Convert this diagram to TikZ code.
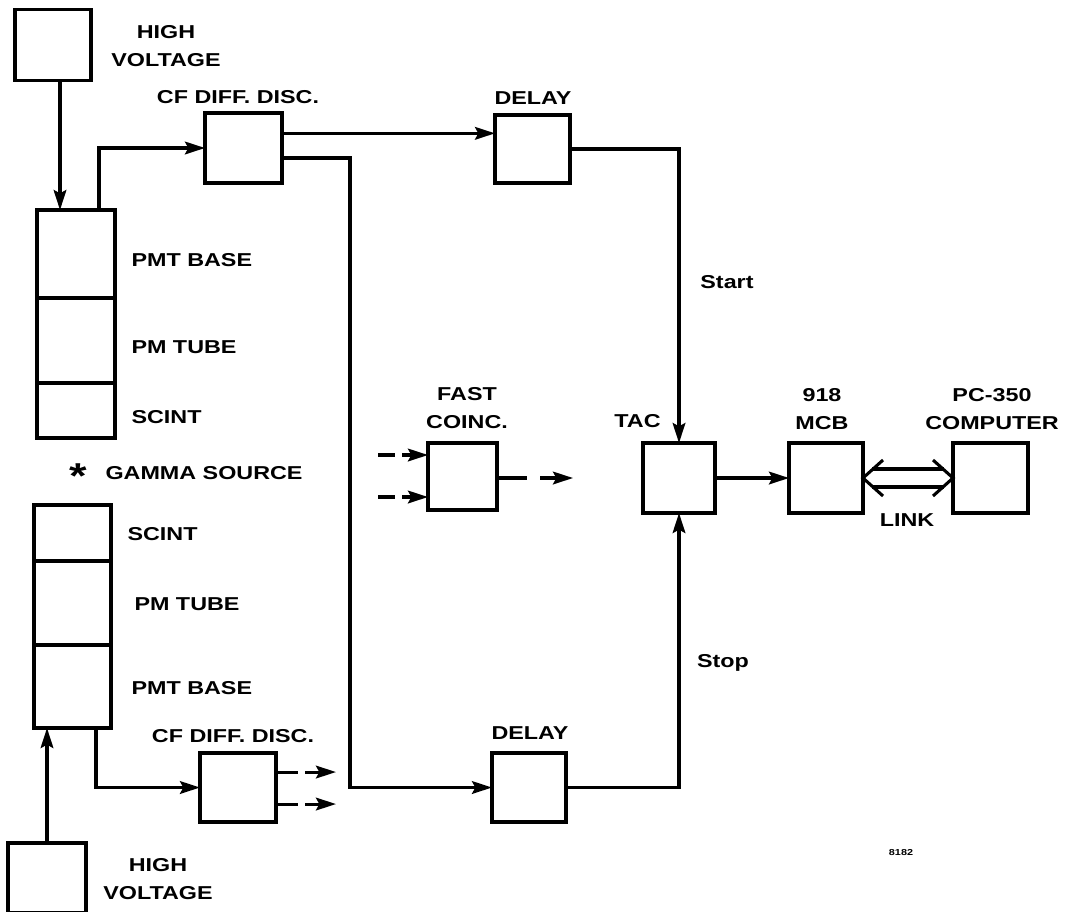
\documentclass[tikz,border=0pt]{standalone}
\usepackage{fontspec}
\newfontfamily\lblfont[FakeStretch=1.25]{Liberation Sans}
\usetikzlibrary{arrows.meta,calc}
\begin{document}
\begin{tikzpicture}[x=0.75pt,y=-0.75pt,line width=2.3pt,
  box/.style n args={2}{draw,line width=2.3pt,minimum width=#1*0.75pt,minimum height=#2*0.75pt,inner sep=0pt,outer sep=0pt},
  lbl/.style={font=\lblfont\bfseries\fontsize{14}{21}\selectfont,align=center,inner sep=0pt},
  lbll/.style={lbl,anchor=west},
  arr/.style={-{Stealth[length=15pt,width=9.5pt,inset=2.5pt]}}]
\useasboundingbox (0,0) rectangle (1069,911);
\clip (0,0) rectangle (1069,911);
% boxes
\node[box={76}{71}] (hv1) at (53,45) {};
\node[box={78}{88}] (base1) at (76,254) {};
\node[box={78}{85}] (tube1) at (76,340.5) {};
\node[box={78}{55}] (scint1) at (76,410.5) {};
\node[box={77}{56}] (scint2) at (72.5,533) {};
\node[box={77}{84}] (tube2) at (72.5,603) {};
\node[box={77}{83}] (base2) at (72.5,686.5) {};
\node[box={78}{70}] (hv2) at (47,878) {};
\node[box={77}{70}] (cf1) at (243.5,148) {};
\node[box={76}{69}] (cf2) at (238,787.5) {};
\node[box={75}{68}] (dl1) at (532.5,149) {};
\node[box={74}{69}] (dl2) at (529,787.5) {};
\node[box={69}{67}] (fc) at (462.5,476.5) {};
\node[box={72}{70}] (tac) at (679,478) {};
\node[box={74}{70}] (mcb) at (826,478) {};
\node[box={75}{70}] (pc) at (990.5,478) {};
% labels
\node[lbl] (thv1) at (166,46) {HIGH\\VOLTAGE};
\node[lbl] (tcf1) at (238,97) {CF DIFF. DISC.};
\node[lbl] (tdl1) at (533,98) {DELAY};
\node[lbll] (tbase1) at (130,260) {PMT BASE};
\node[lbll] (ttube1) at (130,347) {PM TUBE};
\node[lbll] (tscint1) at (130,417) {SCINT};
\node[font=\lblfont\bfseries\fontsize{27}{27}\selectfont,inner sep=0pt,anchor=north] (star) at (78,462) {*};
\node[lbll] (tgam) at (104,473) {GAMMA SOURCE};
\node[lbll] (tscint2) at (126,534) {SCINT};
\node[lbll] (ttube2) at (133,604) {PM TUBE};
\node[lbll] (tbase2) at (130,688) {PMT BASE};
\node[lbl] (tcf2) at (233,736) {CF DIFF. DISC.};
\node[lbl] (tdl2) at (530,733) {DELAY};
\node[lbl] (thv2) at (158,879) {HIGH\\VOLTAGE};
\node[lbl] (tfc) at (467,408) {FAST\\COINC.};
\node[lbl] (ttac) at (637.5,421) {TAC};
\node[lbl] (tmcb) at (822,409) {918\\MCB};
\node[lbl] (tpc) at (992,409) {PC-350\\COMPUTER};
\node[lbl] (tlink) at (907,520) {LINK};
\node[lbl] (tstart) at (727,282) {Start};
\node[lbl] (tstop) at (723,663) {Stop};
\node[font=\lblfont\bfseries\fontsize{6.5}{7}\selectfont,inner sep=0pt] (tnum) at (901,852) {8182};
% connectors
\coordinate (hvo) at ([xshift=5.25pt]hv1.south);
\draw[arr] (hvo) -- (hvo |- base1.north);
\coordinate (b1o) at ([xshift=17.25pt]base1.north);
\draw[arr] (b1o) |- (cf1.west);
\coordinate (c1) at ([yshift=11pt]cf1.east);
\draw[arr] (c1) -- (c1 -| dl1.west);
\coordinate (c2) at ([yshift=-7.5pt]cf1.east);
\coordinate (bend) at (350,0);
\draw[arr] (c2) -- (c2 -| bend) -- (bend |- dl2.west) -- (dl2.west);
\draw[arr] (dl1.east) -| (tac.north);
\draw[arr] (dl2.east) -| (tac.south);
\draw[arr] (tac) -- (mcb);
\draw (mcb.east) ++(20,-18) -- (mcb.east) -- ++(20,18);
\draw (pc.west) ++(-20,-18) -- (pc.west) -- ++(-20,18);
\draw ($(mcb.east)+(9,-9)$) -- ($(pc.west)+(-9,-9)$);
\draw ($(mcb.east)+(9,9)$) -- ($(pc.west)+(-9,9)$);
\coordinate (b2o) at ([xshift=17.6pt]base2.south);
\draw[arr] (b2o) |- (cf2.west);
\draw[arr] (hv2.north) -- (hv2.north |- base2.south);
% cf2 outputs
\coordinate (o1) at ([yshift=11.6pt]cf2.east);
\coordinate (o2) at ([yshift=-12.4pt]cf2.east);
\draw (o1) -- ++(22,0);
\draw[arr] ($(o1)+(29,0)$) -- ++(31,0);
\draw (o2) -- ++(22,0);
\draw[arr] ($(o2)+(29,0)$) -- ++(31,0);
% fast coinc
\coordinate (i1) at ($(fc.west)+(0,-21.5)$);
\coordinate (i2) at ($(fc.west)+(0,20.5)$);
\draw ($(i1)+(-50,0)$) -- ++(17,0);
\draw[arr] ($(i1)+(-26,0)$) -- (i1);
\draw ($(i2)+(-50,0)$) -- ++(17,0);
\draw[arr] ($(i2)+(-26,0)$) -- (i2);
\coordinate (fo) at ($(fc.east)+(0,1.5)$);
\draw (fo) -- ++(30,0);
\draw[arr] ($(fo)+(43,0)$) -- ++(33,0);
\end{tikzpicture}
\end{document}
